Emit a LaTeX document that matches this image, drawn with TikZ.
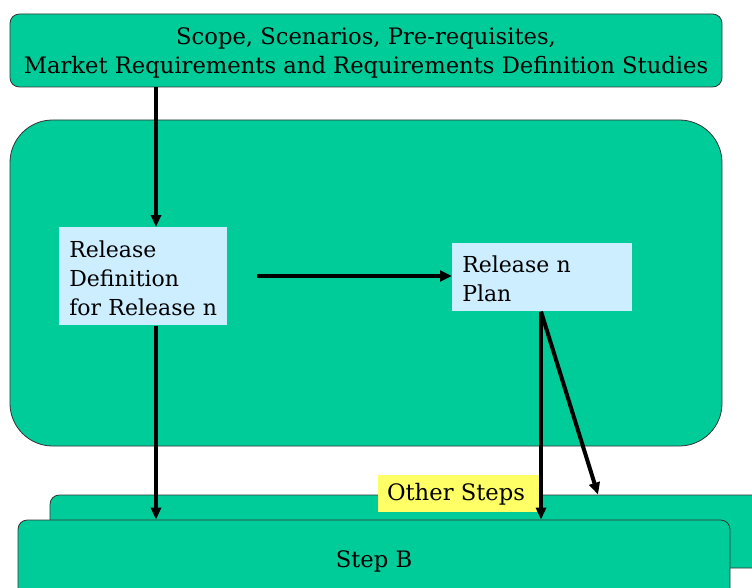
\documentclass[tikz,border=0pt]{standalone}
\usepackage{fontspec}
\setmainfont{DejaVu Serif}
\usetikzlibrary{arrows.meta}
\definecolor{panelgreen}{HTML}{00CC99}
\definecolor{noteblue}{HTML}{CCEEFF}
\definecolor{tagyellow}{HTML}{FFFF66}
\begin{document}
\begin{tikzpicture}[x=0.75pt,y=-0.75pt,
  greenbox/.style={draw=black!80,line width=0.6pt,fill=panelgreen,rounded corners=7pt,inner sep=0pt},
  notebox/.style={fill=noteblue,inner xsep=7.5pt,inner ysep=0pt,align=left,anchor=north west,font=\fontsize{16.5}{22}\selectfont},
  labelfont/.style={font=\fontsize{17}{21}\selectfont},
  textline/.style={labelfont,anchor=base,inner sep=0pt},
  arr/.style={line width=2.3pt,-{Triangle[length=9pt,width=7.5pt]}},
  thickarr/.style={line width=3pt,-{Triangle[length=9pt,width=8pt]}}]
\useasboundingbox (0,0) rectangle (752,588);
% large process area
\node[greenbox,rounded corners=32pt,minimum width=534pt,minimum height=244.5pt] (area) at (366,283) {};
% inputs on top
\node[greenbox,minimum width=534pt,minimum height=54.75pt] (top) at (366,50.5) {};
\node[textline] (topa) at (366,45) {Scope, Scenarios, Pre-requisites,};
\node[textline] (topb) at (366,74) {Market Requirements and Requirements Definition Studies};
% release definition and plan
\node[notebox,minimum width=126pt,text width=111pt] (rd) at (59,227)
  {\rule{0pt}{22.5pt}Release\\Definition\\for Release n\rule[-7pt]{0pt}{7pt}};
\node[notebox,minimum width=135pt,text width=120pt] (rp) at (452,243)
  {\rule{0pt}{21.75pt}Release n\\Plan\rule[-7.25pt]{0pt}{7.25pt}};
% following steps
\node[greenbox,minimum width=547.5pt,minimum height=54.75pt] (other) at (415,531.5) {};
\node[greenbox,minimum width=534pt,minimum height=60pt] (stepb) at (374,560) {};
\node[textline] (stepbtxt) at (374,567) {Step B};
\node[fill=tagyellow,minimum width=123pt,minimum height=27.75pt,inner sep=0pt] (tag) at (460,493.5) {};
\node[textline] (tagtxt) at (456,500) {Other Steps};
% connectors
\coordinate (cl) at (156,0);
\coordinate (cr) at (541,0);
\coordinate (cd) at (598,0);
\draw[arr] (top.south -| cl) -- (rd.north -| cl);
\draw[thickarr,shorten <=21.75pt] (rd.east |- 0,276) -- (rp.west |- 0,276);
\draw[arr] (rd.south -| cl) -- (stepb.north -| cl);
\draw[arr] (rp.south -| cr) -- (stepb.north -| cr);
\draw[thickarr] (rp.south -| cr) -- (other.north -| cd);
\end{tikzpicture}
\end{document}
